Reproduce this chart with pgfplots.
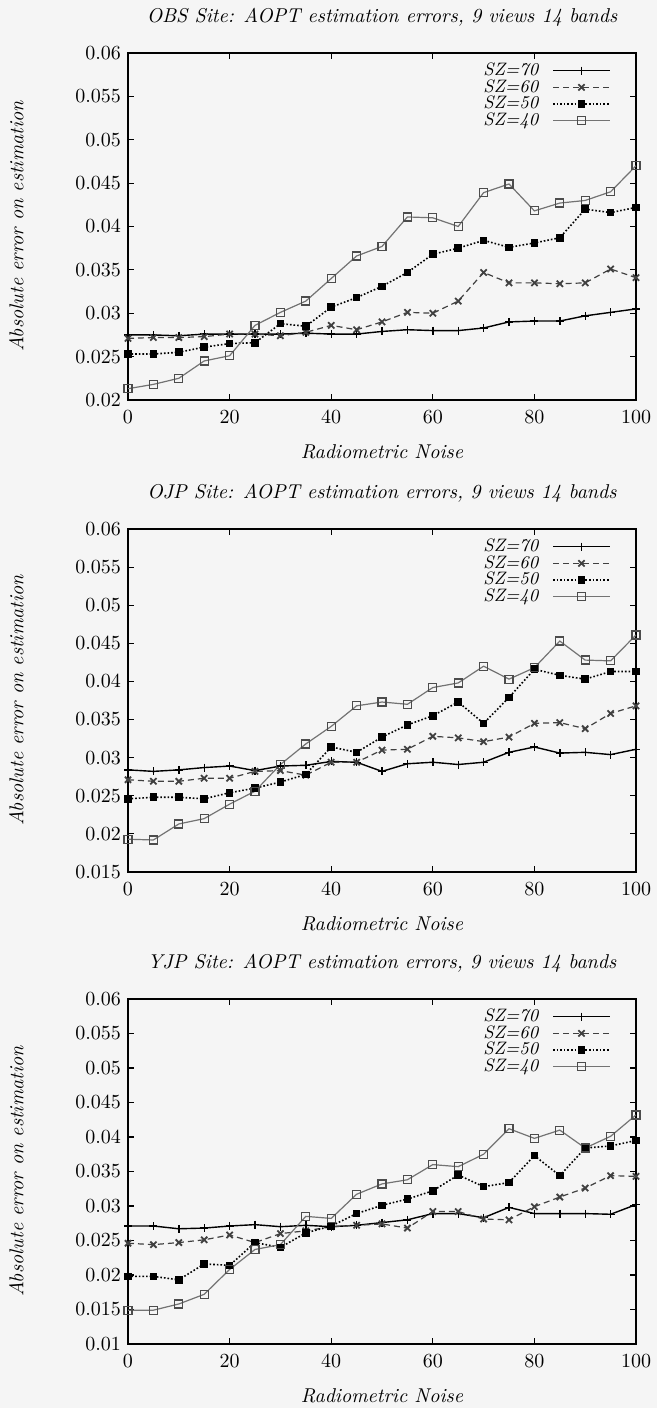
\documentclass[border=0pt]{standalone}
\usepackage{pgfplots}
\pgfplotsset{compat=1.18}
\usepackage{pgfplotstable}

\pgfplotstableread{
x a b c d
0   0.0275 0.0271 0.0253 0.0213
5   0.0275 0.0272 0.0253 0.0218
10  0.0274 0.0272 0.0255 0.0225
15  0.0276 0.0273 0.0261 0.0245
20  0.0276 0.0276 0.0265 0.0251
25  0.0276 0.0276 0.0266 0.0286
30  0.0276 0.0274 0.0288 0.0301
35  0.0277 0.0278 0.0285 0.0314
40  0.0276 0.0286 0.0307 0.0340
45  0.0276 0.0281 0.0318 0.0366
50  0.0279 0.0290 0.0331 0.0377
55  0.0281 0.0301 0.0347 0.0411
60  0.0280 0.0300 0.0368 0.0410
65  0.0280 0.0314 0.0375 0.0400
70  0.0283 0.0347 0.0384 0.0439
75  0.0290 0.0335 0.0376 0.0449
80  0.0291 0.0335 0.0381 0.0418
85  0.0291 0.0334 0.0387 0.0427
90  0.0297 0.0335 0.0420 0.0430
95  0.0301 0.0351 0.0416 0.0440
100 0.0305 0.0341 0.0422 0.0470
}\tabA

\pgfplotstableread{
x a b c d
0   0.0284 0.0271 0.0246 0.0193
5   0.0282 0.0269 0.0248 0.0192
10  0.0284 0.0269 0.0248 0.0213
15  0.0287 0.0273 0.0246 0.0220
20  0.0289 0.0273 0.0254 0.0239
25  0.0283 0.0282 0.0260 0.0256
30  0.0289 0.0283 0.0268 0.0291
35  0.0290 0.0277 0.0278 0.0318
40  0.0295 0.0294 0.0314 0.0341
45  0.0294 0.0294 0.0307 0.0368
50  0.0282 0.0310 0.0327 0.0373
55  0.0292 0.0311 0.0343 0.0370
60  0.0294 0.0328 0.0355 0.0392
65  0.0291 0.0326 0.0373 0.0398
70  0.0294 0.0321 0.0345 0.0420
75  0.0307 0.0327 0.0379 0.0403
80  0.0314 0.0345 0.0416 0.0418
85  0.0306 0.0346 0.0408 0.0453
90  0.0307 0.0338 0.0403 0.0428
95  0.0304 0.0358 0.0413 0.0427
100 0.0311 0.0368 0.0413 0.0461
}\tabB

\pgfplotstableread{
x a b c d
0   0.0271 0.0246 0.0198 0.0149
5   0.0271 0.0244 0.0198 0.0149
10  0.0267 0.0247 0.0193 0.0158
15  0.0268 0.0251 0.0216 0.0172
20  0.0271 0.0258 0.0214 0.0208
25  0.0273 0.0247 0.0247 0.0237
30  0.0270 0.0260 0.0240 0.0244
35  0.0272 0.0264 0.0261 0.0285
40  0.0270 0.0270 0.0271 0.0282
45  0.0272 0.0272 0.0289 0.0317
50  0.0276 0.0274 0.0301 0.0332
55  0.0280 0.0268 0.0310 0.0338
60  0.0289 0.0292 0.0322 0.0360
65  0.0289 0.0292 0.0345 0.0357
70  0.0283 0.0281 0.0328 0.0375
75  0.0298 0.0280 0.0334 0.0412
80  0.0289 0.0299 0.0373 0.0398
85  0.0289 0.0313 0.0344 0.0410
90  0.0289 0.0326 0.0384 0.0384
95  0.0288 0.0344 0.0387 0.0401
100 0.0302 0.0343 0.0395 0.0432
}\tabC

\pgfplotsset{
  myaxis/.style={
    scale only axis,
    width=254pt,
    xmin=0, xmax=100,
    xtick={0,20,40,60,80,100},
    scaled y ticks=false,
    yticklabel style={/pgf/number format/fixed,/pgf/number format/precision=3},
    xticklabel style={yshift=-2pt},
    tick align=inside,
    major tick length=3pt,
    tick style={black, line width=0.6pt},
    axis line style={line width=0.9pt},
    xlabel={\itshape Radiometric Noise},
    ylabel={\itshape Absolute error on estimation},
    ylabel shift=19pt,
    xlabel shift=3.5pt,
    title style={font=\itshape, yshift=4pt},
    legend style={draw=none, fill=none, font=\itshape\small, at={(0.955,0.99)}, anchor=north east,
      row sep=-3.5pt, column sep=5pt, inner sep=1pt},
    legend plot pos=right,
    legend cell align=right,
    legend image code/.code={\draw[mark repeat=2,mark phase=2,##1] plot coordinates {(0cm,0cm) (0.5cm,0cm) (1cm,0cm)};},
  },
  s70/.style={black, solid, line width=0.7pt, mark=+, mark size=2pt},
  s60/.style={black!75, densely dashed, line width=0.6pt, mark=x, mark size=2.2pt, mark options={solid, line width=0.9pt}},
  s50/.style={black, densely dotted, line width=0.8pt, mark=square*, mark size=1.5pt, mark options={solid}},
  s40/.style={black!55, solid, line width=0.6pt, mark=square, mark size=2pt, mark options={solid, black!70, line width=0.6pt}},
}

\begin{document}
\begin{tikzpicture}
\fill[black!4] (0,0) rectangle (328.5pt,704pt);
\path[use as bounding box] (0,0) rectangle (328.5pt,704pt);

\begin{axis}[myaxis, at={(64pt,504pt)}, anchor=south west, height=173.5pt,
  ymin=0.02, ymax=0.06, ytick={0.02,0.025,0.03,0.035,0.04,0.045,0.05,0.055,0.06},
  title={OBS Site: AOPT estimation errors, 9 views 14 bands}]
\addplot[s70] table[x=x,y=a] {\tabA}; \addlegendentry{SZ=70}
\addplot[s60] table[x=x,y=b] {\tabA}; \addlegendentry{SZ=60}
\addplot[s50] table[x=x,y=c] {\tabA}; \addlegendentry{SZ=50}
\addplot[s40] table[x=x,y=d] {\tabA}; \addlegendentry{SZ=40}
\end{axis}

\begin{axis}[myaxis, at={(64pt,268pt)}, anchor=south west, height=171.5pt,
  ymin=0.015, ymax=0.06, ytick={0.015,0.02,0.025,0.03,0.035,0.04,0.045,0.05,0.055,0.06},
  title={OJP Site: AOPT estimation errors, 9 views 14 bands}]
\addplot[s70] table[x=x,y=a] {\tabB}; \addlegendentry{SZ=70}
\addplot[s60] table[x=x,y=b] {\tabB}; \addlegendentry{SZ=60}
\addplot[s50] table[x=x,y=c] {\tabB}; \addlegendentry{SZ=50}
\addplot[s40] table[x=x,y=d] {\tabB}; \addlegendentry{SZ=40}
\end{axis}

\begin{axis}[myaxis, at={(64pt,32pt)}, anchor=south west, height=172.5pt,
  ymin=0.01, ymax=0.06, ytick={0.01,0.015,0.02,0.025,0.03,0.035,0.04,0.045,0.05,0.055,0.06},
  title={YJP Site: AOPT estimation errors, 9 views 14 bands}]
\addplot[s70] table[x=x,y=a] {\tabC}; \addlegendentry{SZ=70}
\addplot[s60] table[x=x,y=b] {\tabC}; \addlegendentry{SZ=60}
\addplot[s50] table[x=x,y=c] {\tabC}; \addlegendentry{SZ=50}
\addplot[s40] table[x=x,y=d] {\tabC}; \addlegendentry{SZ=40}
\end{axis}
\end{tikzpicture}
\end{document}
